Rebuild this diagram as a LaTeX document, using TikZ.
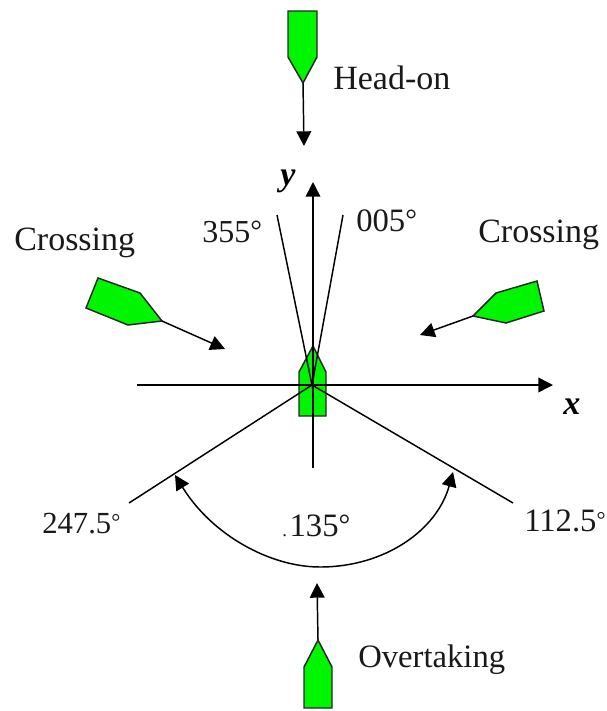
\documentclass[tikz,border=0pt]{standalone}
\usepackage{fontspec}
\setmainfont{Liberation Serif}
\usetikzlibrary{arrows.meta}
\definecolor{shipgreen}{RGB}{0,245,0}
\newcommand{\dg}{{\fontsize{17}{17}\selectfont\raisebox{2.5pt}{°}}}
\newcommand{\dgb}{{\fontsize{22}{22}\selectfont\raisebox{1pt}{°}}}
\tikzset{
  every picture/.style={x=0.75pt,y=-0.75pt},
  ship/.style={draw=black!85,line width=1.1pt,fill=shipgreen,line join=miter},
  axisline/.style={draw=black,line width=1.1pt},
  tip/.tip={Triangle[length=11pt,width=11pt]},
  arrowline/.style={axisline,-tip},
  lbl/.style={inner sep=0pt,anchor=base west,font=\fontsize{25.5}{28}\selectfont,text=black!90},
  numlbl/.style={lbl,font=\fontsize{24.5}{28}\selectfont},
  axlbl/.style={inner sep=0pt,anchor=base west,font=\fontsize{25.5}{28}\selectfont\bfseries\itshape}
}
\begin{document}
\begin{tikzpicture}
\useasboundingbox (0,0) rectangle (607,711);
% named points
\coordinate (o) at (312,385);
\coordinate (xs) at (137,385);
\coordinate (xe) at (553,385);
\coordinate (ys) at (313,468);
\coordinate (ye) at (313,182);
\coordinate (l355) at (277,215);
\coordinate (l005) at (343,215);
\coordinate (l247) at (129,503);
\coordinate (l112) at (513,503);
\coordinate (htip) at (303,83);
\coordinate (hend) at (304,146);
\coordinate (ltip) at (162,321);
\coordinate (lend) at (225,349);
\coordinate (rtip) at (473,316);
\coordinate (rend) at (420,335);
\coordinate (btip) at (318,640);
\coordinate (bend) at (317,583);
\coordinate (arcL) at (175,475);
\coordinate (arcM) at (320,567);
\coordinate (arcR) at (453,472);
% ships
\draw[ship] (288,11) -- (317,11) -- (317,57) -- (htip) -- (288,57) -- cycle;
\draw[ship] (98,278) -- (140,293) -- (ltip) -- (128,325) -- (86,308) -- cycle;
\draw[ship] (537,281) -- (544,311) -- (506,323) -- (rtip) -- (496,293) -- cycle;
\draw[ship] (299,416) -- (299,372) -- (313,346) -- (326,372) -- (326,416) -- cycle;
\draw[ship] (304,708) -- (304,667) -- (btip) -- (332,667) -- (332,708) -- cycle;
% axes and sector lines
\draw[arrowline] (xs) -- (xe);
\draw[arrowline] (ys) -- (ye);
\draw[axisline] (l355) -- (o) -- (l005);
\draw[axisline] (l247) -- (o) -- (l112);
% motion arrows
\draw[arrowline] (htip) -- (hend);
\draw[arrowline] (ltip) -- (lend);
\draw[arrowline] (rtip) -- (rend);
\draw[arrowline] (btip) -- (bend);
% arc
\draw[axisline,tip-tip]
  (arcL) .. controls (212,535) and (270,567) .. (arcM)
         .. controls (385,567) and (437,530) .. (arcR);
% labels
\node[lbl] (head) at (333,89) {Head-on};
\node[lbl] (crl) at (14,250) {Crossing};
\node[lbl] (crr) at (478,242) {Crossing};
\node[numlbl,font=\fontsize{24}{28}\selectfont] (a355) at (202,242) {355\dgb};
\node[numlbl] (a005) at (356,231) {005\dgb};
\node[numlbl,font=\fontsize{23}{28}\selectfont] (a247) at (42,533) {247.5\dg};
\node[numlbl] (a112) at (524,531) {112.5\dg};
\node[numlbl] (a135) at (282,536) {{\fontsize{14}{14}\selectfont.}\kern2pt 135\dgb};
\node[lbl,font=\fontsize{24.5}{28}\selectfont] (over) at (358,667) {Overtaking};
\node[axlbl] (ylab) at (280,185) {y};
\node[axlbl] (xlab) at (563,414) {x};
\end{tikzpicture}
\end{document}
